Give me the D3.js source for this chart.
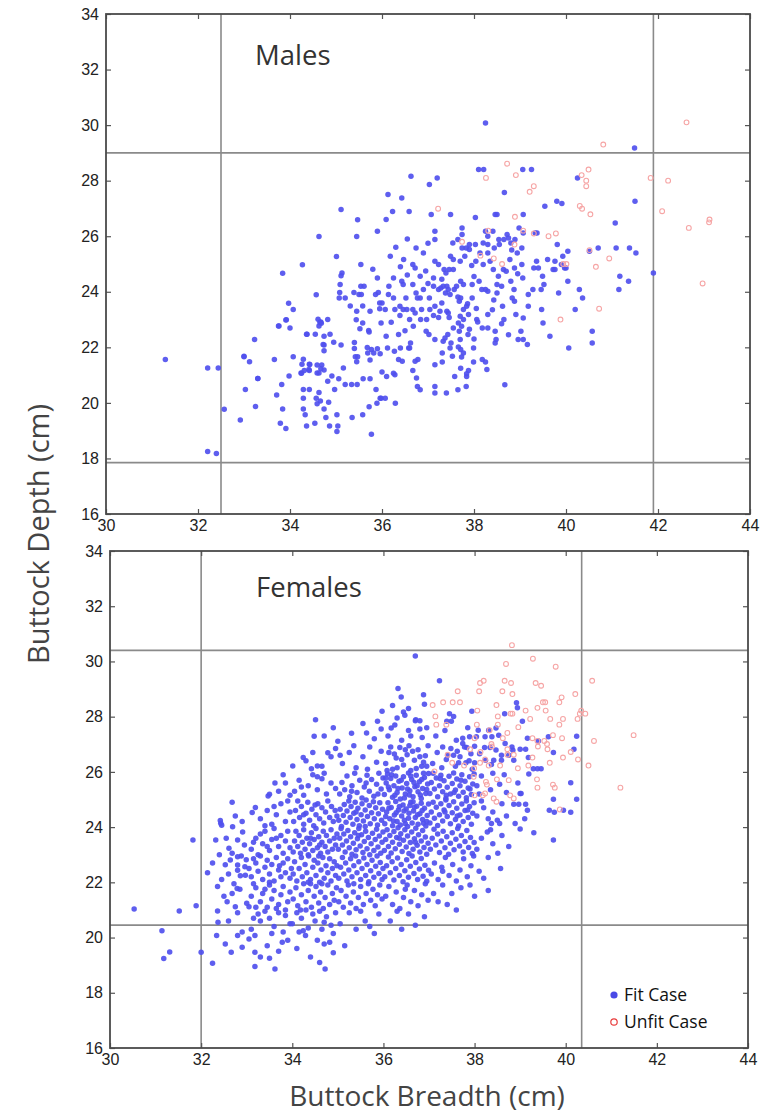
<!DOCTYPE html>
<html><head><meta charset="utf-8">
<script src="https://cdn.jsdelivr.net/npm/d3@7/dist/d3.min.js"></script>
<style>html,body{margin:0;padding:0;background:#fff}svg{display:block}</style>
</head><body>
<svg id="chart" width="780" height="1113"></svg>
<script>
// ---------- DATA (cm) ----------
const xTicks = [30,32,34,36,38,40,42,44];
const yTicks = [16,18,20,22,24,26,28,30,32,34];
const panelTitles = ["Males","Females"];
const legendLabels = ["Fit Case","Unfit Case"];
const xAxisTitle = "Buttock Breadth (cm)";
const yAxisTitle = "Buttock Depth (cm)";
const maleBreadthLimits = [32.5, 41.9];
const maleDepthLimits = [17.85, 29.0];
const femaleBreadthLimits = [32.0, 40.35];
const femaleDepthLimits = [20.45, 30.4];

const maleFit = [
[31.29,21.56],[32.21,18.25],[32.4,18.18],[36.13,27.5],
[35.11,26.96],[35.47,26.59],[35.9,26.18],[35.45,25.99],[34.63,25.99],[35.01,25.27],[35.54,24.98],[35.8,24.81],[34.27,24.97],[33.84,24.67],[35.13,24.68],[35.11,24.58],[35.9,24.5],[35.09,24.26],[35.54,24.2],[35.61,24.2],[34.57,23.89],[35.08,23.97],[35.07,23.78],[35.2,23.78],[35.39,23.97],[35.5,23.9],[35.55,23.9],[35.86,23.9],[35.92,23.97],[35.31,23.49],[35.58,23.49],[35.45,23.3],[35.74,23.3],[35.95,23.6],[35.95,23.39],[33.97,23.59],[34.07,23.36],[33.92,22.99],[33.76,22.77],[34.0,22.7],[34.61,23.01],[34.67,22.91],[34.63,22.77],[34.68,22.87],[34.82,23.0],[35.44,22.99],[35.58,22.88],[35.52,22.67],[35.71,22.61],[35.72,22.55],[35.98,22.88],[34.37,22.47],[34.55,22.47],[34.74,22.4],[34.87,22.47],[33.23,22.28],[34.95,22.18],[34.74,22.08],[34.74,21.88],[35.4,22.17],[35.4,21.96],[35.68,21.99],[35.77,21.92],[35.69,21.8],[35.82,21.8],[35.9,21.95],[35.96,21.77],[33.0,21.66],[33.12,21.48],[33.66,21.56],[34.07,21.66],[34.29,21.57],[34.26,21.39],[34.42,21.39],[34.31,21.17],[34.42,21.17],[34.59,21.36],[34.69,21.36],[34.67,21.23],[34.74,21.18],[34.59,21.08],[34.63,21.08],[35.16,21.26],[35.42,21.66],[35.47,21.66],[35.45,21.48],[35.74,21.54],[32.21,21.26],[32.44,21.26],[34.24,21.08],[33.3,20.88],[33.03,20.48],[33.82,20.66],[33.71,20.28],[33.98,20.97],[34.29,20.48],[34.42,20.48],[34.29,20.17],[34.57,20.17],[34.59,19.97],[34.63,20.37],[34.66,20.07],[34.82,20.78],[34.91,20.97],[35.06,20.87],[34.97,20.48],[34.84,20.02],[35.2,20.66],[35.34,20.66],[35.46,20.66],[35.59,20.87],[35.74,20.87],[35.87,20.48],[35.96,20.17],[35.89,19.99],[33.25,19.87],[32.57,19.77],[32.92,19.38],[33.84,19.78],[33.79,19.27],[33.91,19.08],[34.29,19.78],[34.33,19.57],[34.36,19.17],[34.54,19.27],[34.74,19.78],[34.78,19.47],[34.86,19.17],[35.02,19.57],[35.04,19.17],[35.02,18.97],[35.35,19.47],[35.58,19.57],[35.72,19.86],[35.77,18.87],
[33.0,21.68],[33.3,20.88],[33.75,22.77],[33.91,22.98],[34.36,22.47],[34.65,22.9],[34.72,22.1],[35.11,22.08],[34.43,21.38],[34.41,21.2],[34.25,21.07],
[38.25,30.08],[41.49,29.18],[36.63,28.16],[37.2,28.1],[37.03,27.86],[36.43,27.38],[38.1,28.4],[38.21,28.4],[39.06,28.4],[39.25,28.4],[40.25,28.1],[38.66,27.57],
[36.23,26.89],[36.09,26.6],[36.59,26.89],[37.07,26.78],[37.49,26.78],[38.03,26.67],[38.46,26.78],[38.5,26.78],[39.07,26.78],[39.54,27.08],[39.8,27.26],[39.91,27.18],[41.07,26.48],[41.5,27.26],[37.74,26.3],[37.74,26.06],[37.15,26.18],[37.15,25.88],[36.74,25.58],[37.54,25.76],[37.65,25.88],[37.74,25.58],[37.83,25.58],[37.9,25.7],[38.03,25.7],[37.9,25.52],
[38.25,26.18],[38.41,26.18],[38.3,26.0],[38.2,25.76],[38.3,25.7],[38.3,25.4],[38.44,25.58],[38.55,25.7],[38.54,25.88],[38.65,25.88],[38.72,26.06],[38.75,25.94],[38.8,25.76],[38.82,25.5],[38.89,25.88],[38.98,26.3],[39.07,26.12],[39.04,25.58],[38.94,25.4],
[39.33,26.12],[39.37,26.12],[39.81,25.7],[39.93,25.28],[40.04,25.46],[40.51,25.46],[40.7,25.58],[41.09,25.58],[41.38,25.58],[41.52,25.4],[41.17,24.56],[41.36,24.38],[41.15,24.08],[41.9,24.68],[40.29,24.08],[40.36,23.78],[40.2,23.36],[40.57,22.58],[40.57,22.16],[40.06,21.98],[39.65,22.4],[39.84,23.96],[40.04,24.38],[39.9,24.98],[39.97,24.86],[40.0,24.86],[39.72,24.8],[39.76,24.8],[39.6,25.16],[39.76,25.1],[39.36,25.1],[39.3,24.86],[39.4,24.86],[39.49,24.56],[39.52,24.26],[39.46,24.08],[39.28,24.08],[39.18,23.9],[39.18,23.48],[39.47,23.36],[39.5,22.88],[39.07,23.06],[38.91,23.18],[39.02,22.58],[38.96,22.28],[39.07,22.28],[39.16,22.1],[39.04,24.98],[39.06,24.5],[38.87,24.08],[38.8,24.38],[38.83,23.78],[38.88,23.66],[38.62,23.48],[38.65,23.0],[38.46,22.58],[38.48,22.28],[38.46,22.16],
[38.5,24.26],[38.5,23.96],[38.43,23.7],[38.3,24.02],[38.25,24.08],[38.17,24.08],[38.11,24.38],[38.04,25.1],[38.13,25.4],[38.2,24.98],[38.42,24.8],[38.53,24.56],[38.64,24.8],[38.78,25.16],[38.88,24.86],[38.7,24.74],
[38.3,23.18],[38.18,22.7],[38.3,22.7],[38.18,21.56],[38.25,21.47],[38.28,21.2],[37.99,21.47],[37.88,21.17],[37.84,21.05],[37.71,21.25],[38.67,20.65],
[38.06,23.0],[38.08,22.91],[37.99,21.98],[37.87,22.46],[37.68,22.58],[37.73,22.76],[37.77,23.0],[37.88,23.18],[37.84,23.48],[37.86,23.57],[37.96,23.78],[37.71,23.78],[37.68,23.66],[37.77,23.36],[37.7,23.12],
[37.7,22.28],[37.66,22.01],[37.71,21.92],[37.77,21.8],[37.73,21.65],[37.53,21.68],[37.48,21.98],[37.5,22.16],[37.33,22.22],[37.37,22.34],[37.43,22.46],[37.31,21.8],[37.31,21.47],[37.15,21.37],
[37.58,20.95],[37.84,20.95],[37.83,20.59],[37.65,20.47],[37.4,20.36],[37.15,20.59],[37.15,20.36],[36.83,20.47],[36.77,20.59],[36.67,21.17],[36.75,20.9],
[36.72,21.5],[36.78,21.56],[36.6,21.98],[36.4,21.98],[36.27,21.86],[36.44,21.5],[36.36,21.56],[36.28,21.01],[36.25,21.07],[36.1,20.95],[36.0,21.11],[36.29,19.99],[36.07,20.17],[35.98,20.17],
[36.36,22.46],[36.09,22.4],[36.12,21.98],[36.62,22.16],[36.58,21.98],[36.96,22.58],[37.02,22.46],[37.15,22.28],
[36.18,25.28],[36.47,25.16],[36.67,24.98],[36.72,24.86],[36.83,24.56],[37.15,25.1],[37.23,24.98],[37.35,24.8],[37.46,24.8],[37.55,24.8],[37.39,24.68],[37.49,25.28],[37.55,25.16],[37.7,25.1],[37.8,25.28],
[37.12,24.5],[36.25,24.5],[36.43,24.38],[36.46,24.26],[36.67,24.26],[36.74,23.96],[36.9,24.08],[37.12,24.2],[37.28,24.14],[37.33,24.2],[37.41,24.2],[37.44,24.08],[37.57,24.08],[37.62,24.2],[37.77,24.26],[37.71,24.38],[37.96,24.26],
[36.14,23.9],[36.25,23.78],[36.52,23.78],[36.77,23.78],[36.83,23.78],[37.03,23.78],[37.23,24.08],[37.38,23.96],[37.48,23.9],[37.65,23.81],
[36.0,23.6],[36.07,23.36],[36.28,23.36],[36.39,23.48],[36.46,23.36],[36.54,23.36],[36.67,23.36],[36.72,23.24],[36.86,23.36],[37.04,23.36],[37.15,23.48],[37.26,23.3],[37.41,23.3],[37.3,23.6],[37.44,23.24],
[36.39,23.15],[36.6,23.0],[36.68,22.76],[36.84,23.0],[36.97,23.0],[37.12,23.15],[37.23,23.07],[37.46,23.07],[37.66,22.88],
[36.3,25.6],[36.55,25.9],[36.9,25.4],[37.0,25.75],[36.4,24.9],[36.95,24.75],[36.2,22.9],[36.5,22.6],[36.15,24.2],[36.55,24.6],[37.0,24.3],[37.3,24.45],[38.0,24.55],[37.95,24.95],[38.35,25.1],[38.6,24.2],[38.95,24.65],[38.05,23.4],[38.4,23.35],[38.6,22.85],[38.75,22.45],[37.55,22.7],[37.9,22.65],[38.0,22.3]
];

const maleUnfit = [
[40.81,29.3],[42.62,30.1],[38.72,28.61],[38.26,28.1],[38.91,28.2],[39.3,27.8],[39.21,27.6],[40.34,28.2],[40.49,28.4],[40.44,28.0],[40.44,27.8],[41.84,28.1],[42.22,28.0],[37.22,26.99],[38.89,26.7],[40.3,27.09],[40.35,26.99],[40.53,26.79],[42.09,26.9],[43.12,26.6],[43.11,26.5],[42.67,26.3],[39.07,26.2],[39.3,26.1],[39.62,26.0],[39.78,26.1],[38.88,25.7],[37.74,25.8],[38.31,26.2],[38.14,25.3],[38.43,25.2],[38.61,25.0],[39.94,25.0],[40.01,25.0],[40.51,25.5],[40.65,24.9],[40.94,25.2],[42.97,24.3],[39.88,23.0],[40.72,23.39]
];

const femaleFit = [
// sparse outline
[30.53,21.03],[31.14,20.25],[31.18,19.24],[31.31,19.48],[31.52,20.96],[31.89,21.15],[32.0,19.47],[32.25,19.07],[31.82,23.53],[32.14,22.35],[32.36,21.85],[32.36,20.96],[32.37,20.55],[32.34,20.07],[32.32,23.53],[32.42,24.24],[32.43,24.14],[32.45,24.07],[32.69,24.01],[32.91,23.82],[32.68,24.9],[33.12,24.53],[33.19,24.71],[33.5,25.19],[33.47,25.13],[33.62,25.6],[34.01,26.21],[34.24,26.52],[34.42,26.11],[34.55,26.21],[34.55,25.82],[34.78,26.69],[34.51,27.89],[34.48,27.29],[35.0,27.11],[35.63,27.41],[35.87,27.83],[35.97,28.2],[36.17,27.59],[36.32,29.02],[36.39,28.71],[36.44,28.17],[36.47,28.05],[36.71,27.89],[36.8,27.85],[36.88,28.79],[36.7,30.2],[37.23,29.3],
[32.53,19.77],[32.66,19.47],[32.8,20.07],[32.9,19.65],[33.05,19.95],[33.18,20.07],[33.18,19.47],[33.18,18.95],[33.5,19.25],[33.62,18.86],[33.78,19.83],[34.24,20.25],[34.29,20.07],[34.7,19.77],[34.82,19.83],[34.72,18.86],
// 32-33
[32.5,21.5],[32.57,21.3],[32.68,21.6],[32.79,21.78],[32.85,21.75],[32.75,21.12],[32.64,22.81],[32.53,22.64],[32.8,22.93],[32.88,22.95],[32.8,22.63],[32.8,22.44],[32.99,22.82],[32.96,22.56],[32.97,22.26],[32.86,22.24],[32.68,23.05],[32.61,23.23],[32.8,23.53],[32.95,23.35],[32.6,20.6],[32.8,20.9],[32.9,20.2],[32.45,22.1],[32.6,22.3],[32.72,21.95],[32.55,23.6],[32.75,24.4],[32.9,24.2],[32.25,22.7],[32.4,23.0],
// 33-34
[33.05,21.12],[33.0,21.24],[33.3,19.3],[33.45,19.7],[33.7,19.5],[33.9,19.9],
[33.1,20.3],[33.3,20.6],[33.5,20.7],[33.6,20.4],[33.7,20.9],[33.85,20.8],[33.95,20.5],[33.4,20.95],[33.25,20.85],[33.8,20.2],[33.55,20.15],[33.15,20.7],
[33.1,21.5],[33.2,21.8],[33.3,21.3],[33.35,21.6],[33.45,21.1],[33.5,21.9],[33.55,21.4],[33.6,21.7],[33.7,21.2],[33.75,21.55],[33.8,21.85],[33.9,21.3],[33.95,21.65],[33.2,21.1],[33.4,21.75],[33.65,21.05],[33.85,21.0],[33.15,21.95],
[33.05,22.5],[33.1,22.2],[33.2,22.7],[33.25,22.4],[33.3,22.95],[33.35,22.1],[33.4,22.55],[33.45,22.8],[33.5,22.3],[33.55,22.65],[33.6,22.05],[33.65,22.9],[33.7,22.45],[33.75,22.2],[33.8,22.7],[33.85,22.35],[33.9,22.85],[33.95,22.15],[33.15,22.85],[33.5,22.0],[33.72,22.6],[33.98,22.5],
[33.1,23.2],[33.2,23.6],[33.25,23.0],[33.35,23.4],[33.4,23.85],[33.5,23.15],[33.55,23.55],[33.6,23.95],[33.7,23.3],[33.75,23.7],[33.8,23.05],[33.85,23.5],[33.9,23.85],[33.95,23.25],[33.45,23.3],[33.65,23.6],[33.3,23.75],[33.15,23.45],
[33.3,24.3],[33.45,24.6],[33.55,24.1],[33.65,24.45],[33.75,24.85],[33.85,24.2],[33.95,24.55],[33.6,24.75],[33.4,24.05],[33.9,24.95],
[33.7,25.3],[33.85,25.6],[33.95,25.15],[33.8,25.9],
// 34-35
[34.1,19.6],[34.4,19.3],[34.55,19.9],[34.9,19.45],[34.6,19.1],
[34.0,20.5],[34.1,20.9],[34.2,20.7],[34.35,20.35],[34.45,20.85],[34.5,20.6],[34.6,20.95],[34.65,20.3],[34.75,20.75],[34.85,20.45],[34.95,20.9],[34.3,21.0],[34.7,20.55],[34.9,20.15],[34.15,20.2],
[34.02,21.4],[34.08,21.8],[34.12,21.15],[34.2,21.55],[34.25,21.95],[34.3,21.3],[34.35,21.7],[34.42,21.1],[34.48,21.5],[34.52,21.85],[34.58,21.25],[34.62,21.65],[34.68,21.05],[34.72,21.45],[34.78,21.9],[34.82,21.2],[34.88,21.6],[34.92,21.35],[34.97,21.8],[34.4,21.95],[34.65,21.95],[34.18,21.0],
[34.02,22.3],[34.05,22.75],[34.1,22.05],[34.15,22.5],[34.2,22.9],[34.22,22.2],[34.28,22.65],[34.32,22.35],[34.36,22.95],[34.4,22.1],[34.45,22.55],[34.48,22.8],[34.52,22.25],[34.56,22.7],[34.6,22.0],[34.63,22.45],[34.67,22.9],[34.7,22.15],[34.74,22.6],[34.78,22.35],[34.82,22.85],[34.85,22.05],[34.88,22.5],[34.92,22.75],[34.95,22.25],[34.98,22.6],[34.35,22.0],[34.58,22.95],
[34.02,23.1],[34.05,23.5],[34.08,23.85],[34.12,23.3],[34.15,23.7],[34.18,23.05],[34.22,23.45],[34.25,23.9],[34.28,23.2],[34.32,23.6],[34.35,23.0],[34.38,23.4],[34.42,23.8],[34.45,23.15],[34.48,23.55],[34.52,23.95],[34.55,23.25],[34.58,23.65],[34.62,23.05],[34.65,23.45],[34.68,23.85],[34.72,23.3],[34.75,23.7],[34.78,23.1],[34.82,23.5],[34.85,23.9],[34.88,23.2],[34.92,23.6],[34.95,23.35],[34.98,23.75],[34.4,23.6],[34.6,23.35],
[34.03,24.2],[34.07,24.6],[34.12,24.95],[34.16,24.35],[34.2,24.75],[34.25,24.1],[34.3,24.5],[34.34,24.9],[34.38,24.25],[34.43,24.65],[34.47,24.05],[34.52,24.45],[34.56,24.85],[34.6,24.3],[34.65,24.7],[34.69,24.15],[34.73,24.55],[34.78,24.95],[34.82,24.35],[34.86,24.75],[34.9,24.2],[34.94,24.6],[34.98,24.4],[34.5,24.8],[34.25,24.45],
[34.05,25.3],[34.15,25.7],[34.25,25.15],[34.35,25.5],[34.45,25.9],[34.55,25.35],[34.65,25.75],[34.75,25.2],[34.85,25.6],[34.95,25.4],[34.7,25.95],[34.2,25.45],
[34.3,26.4],[34.65,26.2],[34.85,26.55],[34.95,26.85],[34.45,26.7],[34.9,27.6],[34.7,27.3],
// 35-36
[35.15,19.7],[35.4,20.3],[35.6,20.6],[35.8,20.15],[35.9,20.85],[35.25,20.9],[35.5,20.95],[35.7,20.4],[35.05,20.5],
[35.02,21.3],[35.07,21.7],[35.12,21.1],[35.18,21.5],[35.23,21.9],[35.28,21.25],[35.34,21.65],[35.4,21.05],[35.45,21.45],[35.5,21.85],[35.56,21.2],[35.62,21.6],[35.67,21.95],[35.72,21.35],[35.77,21.75],[35.82,21.15],[35.87,21.55],[35.92,21.9],[35.97,21.4],[35.35,21.95],
[35.02,22.15],[35.06,22.55],[35.1,22.9],[35.13,22.3],[35.17,22.7],[35.2,22.05],[35.24,22.45],[35.28,22.85],[35.31,22.2],[35.35,22.6],[35.39,22.95],[35.42,22.35],[35.46,22.75],[35.5,22.1],[35.53,22.5],[35.57,22.88],[35.61,22.25],[35.64,22.65],[35.68,22.02],[35.72,22.42],[35.75,22.8],[35.79,22.18],[35.83,22.58],[35.86,22.95],[35.9,22.32],[35.93,22.72],[35.97,22.1],[35.99,22.5],
[35.01,23.2],[35.04,23.6],[35.07,23.95],[35.1,23.35],[35.13,23.75],[35.16,23.1],[35.19,23.5],[35.22,23.88],[35.25,23.25],[35.28,23.65],[35.31,23.02],[35.34,23.42],[35.37,23.8],[35.4,23.18],[35.43,23.58],[35.46,23.95],[35.49,23.32],[35.52,23.72],[35.55,23.08],[35.58,23.48],[35.61,23.85],[35.64,23.22],[35.67,23.62],[35.7,23.0],[35.73,23.4],[35.76,23.78],[35.79,23.15],[35.82,23.55],[35.85,23.92],[35.88,23.28],[35.91,23.68],[35.94,23.05],[35.97,23.45],[35.99,23.82],[35.45,23.7],
[35.02,24.25],[35.05,24.65],[35.08,24.02],[35.12,24.42],[35.14,24.82],[35.18,24.18],[35.2,24.58],[35.24,24.95],[35.27,24.35],[35.29,24.75],[35.33,24.1],[35.35,24.5],[35.38,24.9],[35.42,24.28],[35.44,24.68],[35.47,24.05],[35.51,24.45],[35.53,24.85],[35.56,24.22],[35.6,24.62],[35.62,24.98],[35.65,24.38],[35.69,24.78],[35.71,24.12],[35.74,24.52],[35.78,24.92],[35.8,24.3],[35.83,24.7],[35.87,24.08],[35.89,24.48],[35.92,24.88],[35.96,24.25],[35.98,24.65],[35.6,24.02],[35.4,24.55],
[35.04,25.2],[35.09,25.62],[35.15,25.35],[35.2,25.85],[35.26,25.1],[35.31,25.5],[35.37,25.95],[35.42,25.25],[35.48,25.7],[35.53,25.05],[35.58,25.45],[35.64,25.88],[35.69,25.3],[35.74,25.72],[35.79,25.12],[35.85,25.55],[35.9,25.95],[35.95,25.38],[35.99,25.78],[35.3,25.3],[35.62,25.6],[35.88,25.2],
[35.1,26.3],[35.25,26.7],[35.4,26.15],[35.55,26.55],[35.7,26.9],[35.85,26.35],[35.95,26.75],[35.35,26.95],[35.65,26.1],[35.05,26.6],
[35.3,27.4],[35.55,27.75],[35.8,27.2],[35.95,27.55],
// 36-37
[36.15,20.6],[36.4,20.3],[36.55,20.85],[36.7,20.45],[36.9,20.75],[36.3,20.95],
[36.05,21.5],[36.12,21.85],[36.2,21.2],[36.28,21.65],[36.36,21.05],[36.44,21.45],[36.52,21.9],[36.6,21.3],[36.68,21.7],[36.76,21.15],[36.84,21.55],[36.92,21.95],[36.98,21.35],[36.48,21.75],
[36.03,22.2],[36.07,22.6],[36.11,22.92],[36.15,22.35],[36.19,22.75],[36.23,22.08],[36.27,22.5],[36.31,22.88],[36.35,22.25],[36.39,22.65],[36.43,22.02],[36.47,22.42],[36.51,22.82],[36.55,22.18],[36.59,22.58],[36.63,22.95],[36.67,22.32],[36.71,22.72],[36.75,22.1],[36.79,22.48],[36.83,22.86],[36.87,22.22],[36.91,22.62],[36.95,22.04],[36.99,22.44],
[36.02,23.15],[36.05,23.55],[36.08,23.9],[36.11,23.3],[36.14,23.7],[36.17,23.06],[36.2,23.45],[36.23,23.84],[36.26,23.22],[36.29,23.62],[36.32,23.98],[36.35,23.38],[36.38,23.76],[36.41,23.12],[36.44,23.52],[36.47,23.9],[36.5,23.28],[36.53,23.68],[36.56,23.04],[36.59,23.44],[36.62,23.82],[36.65,23.2],[36.68,23.58],[36.71,23.96],[36.74,23.34],[36.77,23.72],[36.8,23.1],[36.83,23.5],[36.86,23.88],[36.89,23.26],[36.92,23.64],[36.95,23.02],[36.98,23.42],[36.35,23.6],[36.7,23.45],
[36.03,24.12],[36.07,24.55],[36.1,24.88],[36.14,24.3],[36.17,24.71],[36.2,24.05],[36.24,24.44],[36.27,24.93],[36.3,24.2],[36.33,24.62],[36.37,24.08],[36.4,24.4],[36.43,24.8],[36.46,24.25],[36.5,24.66],[36.53,24.02],[36.56,24.5],[36.6,24.9],[36.63,24.15],[36.66,24.58],[36.7,24.35],[36.73,24.76],[36.76,24.1],[36.8,24.48],[36.83,24.86],[36.86,24.28],[36.9,24.68],[36.93,24.04],[36.96,24.42],[36.99,24.84],[36.12,24.68],[36.22,24.22],[36.35,24.75],[36.45,24.58],[36.55,24.32],[36.65,24.92],[36.75,24.45],[36.85,24.6],[36.95,24.2],[36.05,24.38],[36.28,24.52],[36.48,24.12],[36.68,24.72],[36.88,24.14],[36.58,24.78],
[36.02,25.18],[36.06,25.6],[36.09,25.92],[36.13,25.35],[36.16,25.76],[36.2,25.08],[36.23,25.5],[36.27,25.85],[36.3,25.25],[36.34,25.66],[36.37,25.02],[36.41,25.42],[36.44,25.82],[36.48,25.2],[36.51,25.58],[36.55,25.96],[36.58,25.32],[36.62,25.72],[36.65,25.1],[36.69,25.46],[36.72,25.88],[36.76,25.28],[36.79,25.64],[36.83,25.04],[36.86,25.4],[36.9,25.8],[36.93,25.22],[36.97,25.56],[36.99,25.94],[36.11,25.45],[36.25,25.15],[36.39,25.7],[36.53,25.38],[36.67,25.62],[36.81,25.16],[36.95,25.36],[36.18,25.9],[36.46,25.05],[36.6,25.85],[36.74,25.5],[36.88,25.95],[36.32,25.4],[36.05,25.78],[36.57,25.16],[36.84,25.72],
[36.05,26.3],[36.12,26.7],[36.2,26.1],[36.28,26.5],[36.36,26.88],[36.44,26.25],[36.52,26.62],[36.6,26.05],[36.68,26.42],[36.76,26.8],[36.84,26.2],[36.92,26.58],[36.98,26.95],[36.16,26.9],[36.4,26.45],[36.64,26.75],[36.88,26.35],[36.3,26.15],[36.56,26.95],[36.8,26.55],[36.24,26.65],[36.72,26.12],[36.48,26.8],[36.95,26.2],[36.08,26.05],
[36.1,27.3],[36.25,27.7],[36.4,27.15],[36.55,27.5],[36.7,27.85],[36.85,27.25],[36.95,27.6],[36.3,27.95],[36.6,27.3],[36.8,27.55],
[36.2,28.4],[36.55,28.3],[36.9,28.45],
// 37-38
[37.3,21.9],[37.5,21.6],[37.7,21.8],[37.4,21.2],[38.0,21.5],[37.9,21.9],[38.3,21.7],[37.6,21.0],[37.1,21.6],[37.2,21.3],
[37.05,22.3],[37.12,22.7],[37.2,22.1],[37.28,22.55],[37.36,22.9],[37.44,22.25],[37.52,22.65],[37.6,22.05],[37.68,22.45],[37.76,22.85],[37.84,22.2],[37.92,22.6],[37.98,22.95],[37.3,22.4],
[37.03,23.2],[37.07,23.6],[37.11,23.92],[37.15,23.35],[37.19,23.75],[37.23,23.08],[37.27,23.5],[37.31,23.85],[37.35,23.25],[37.39,23.65],[37.43,23.02],[37.47,23.42],[37.51,23.8],[37.55,23.18],[37.59,23.56],[37.63,23.95],[37.67,23.32],[37.71,23.7],[37.75,23.1],[37.79,23.48],[37.83,23.88],[37.87,23.26],[37.91,23.62],[37.95,23.04],[37.99,23.44],
[37.02,24.15],[37.05,24.55],[37.09,24.9],[37.12,24.32],[37.16,24.72],[37.19,24.06],[37.23,24.45],[37.26,24.85],[37.3,24.22],[37.33,24.62],[37.37,24.98],[37.4,24.38],[37.44,24.78],[37.47,24.12],[37.51,24.52],[37.54,24.92],[37.58,24.28],[37.61,24.68],[37.65,24.04],[37.68,24.44],[37.72,24.84],[37.75,24.2],[37.79,24.6],[37.82,24.95],[37.86,24.35],[37.89,24.75],[37.93,24.1],[37.96,24.5],[37.99,24.88],[37.35,24.55],[37.62,24.4],[37.85,24.62],
[37.02,25.22],[37.05,25.62],[37.09,25.95],[37.12,25.38],[37.16,25.78],[37.19,25.1],[37.23,25.5],[37.26,25.88],[37.3,25.28],[37.33,25.68],[37.37,25.04],[37.4,25.44],[37.44,25.84],[37.47,25.2],[37.51,25.58],[37.54,25.96],[37.58,25.34],[37.61,25.74],[37.65,25.12],[37.68,25.5],[37.72,25.9],[37.75,25.26],[37.79,25.66],[37.82,25.06],[37.86,25.42],[37.89,25.82],[37.93,25.18],[37.96,25.56],[37.99,25.92],[37.25,25.75],[37.55,25.25],[37.7,25.7],[37.38,25.15],[37.9,25.38],
[37.08,26.3],[37.18,26.7],[37.28,26.15],[37.38,26.45],[37.48,26.85],[37.58,26.2],[37.68,26.55],[37.78,26.9],[37.88,26.4],[37.95,26.1],[37.3,26.9],[37.62,26.75],
[37.15,27.3],[37.35,27.5],[37.6,27.15],[37.85,27.6],
// 38-41 (right part)
[38.92,28.5],[38.94,28.32],[37.94,28.2],[37.45,28.11],[37.54,28.01],[37.39,27.83],[37.49,27.83],[38.66,28.11],[39.05,27.83],[38.08,27.51],[38.31,27.51],[38.47,27.59],[37.74,27.22],[37.89,27.27],[38.04,27.27],[38.23,27.27],[38.38,27.27],[38.53,27.33],[38.67,27.03],[38.82,26.9],[38.84,26.78],[39.0,26.82],[39.12,26.82],[39.18,26.52],[39.16,27.22],[39.4,27.12],[39.62,27.27],[40.24,27.29],[39.73,26.7],[40.18,26.82],[39.19,25.92],[39.29,26.11],[39.38,26.11],[39.46,26.11],[40.11,25.61],[39.73,25.01],[39.64,24.61],[39.75,24.54],[39.95,24.61],[40.11,24.54],[40.24,25.01],[39.73,23.53],[39.0,25.22],[39.02,25.22],[38.86,24.83],[38.97,24.83],[39.12,24.83],[39.16,24.61],[38.89,24.13],[39.0,23.93],[38.51,23.05],[38.57,22.5],[38.28,23.82],[38.37,24.13],[38.55,24.13],[38.5,24.25],
[37.74,27.03],[37.83,26.88],[37.92,26.66],[38.0,26.93],[38.11,26.66],[38.22,26.88],[38.34,26.88],[38.47,26.79],[38.59,26.6],[38.75,26.6],[38.86,26.42],[38.59,26.42],[38.42,26.42],[38.37,26.27],[38.24,26.42],[38.0,26.33],[37.81,26.33],[37.65,26.33],[37.54,26.6],[37.41,26.6],
[38.1,22.4],[38.3,22.9],[38.2,22.15],[38.05,23.2],[38.15,23.6],[38.4,23.4],[38.6,23.7],[38.35,23.9],[38.75,23.3],[38.05,24.4],[38.2,24.7],[38.4,24.55],[38.6,24.85],[38.7,24.4],[38.15,24.95],[38.3,24.3],[38.05,25.5],[38.15,25.85],[38.35,25.35],[38.55,25.55],[38.65,25.9],[38.4,25.95],[38.1,25.2],[38.7,25.25],[38.95,25.6],[39.1,24.3],[39.3,23.8]
];

const femaleUnfit = [
[38.82,30.59],[39.28,30.1],[38.69,29.91],[39.78,29.81],[40.58,29.3],[38.12,29.22],[38.2,29.3],[38.66,29.3],[38.8,29.22],[39.34,29.22],[39.46,29.12],[37.63,28.92],[38.1,28.92],[38.61,28.92],[38.83,28.82],[39.91,28.7],[40.21,28.82],[37.08,28.42],[37.31,28.52],[37.52,28.52],[37.68,28.52],[38.48,28.42],[39.5,28.52],[39.55,28.52],[39.86,28.52],[38.06,28.22],[38.51,28.01],[38.79,28.11],[38.83,28.11],[39.12,28.22],[39.38,28.32],[39.56,28.22],[40.34,28.22],[40.43,28.11],[40.31,28.11],[37.14,28.01],[37.16,27.71],[37.38,27.71],[39.22,27.92],[39.66,27.92],[39.94,27.92],[40.26,27.92],[39.86,27.71],[38.05,27.71],[38.51,27.71],[38.72,27.41],[38.96,27.62],[38.33,27.51],[38.62,27.22],[39.27,27.22],[39.38,27.12],[39.53,27.12],[39.59,27.01],[39.72,27.33],[39.92,27.22],[40.62,27.12],[41.49,27.33],[38.0,27.22],[38.37,27.01],[38.38,26.92],[37.9,26.82],[38.13,26.72],[38.72,26.82],[38.86,26.62],[38.72,26.62],[39.39,26.92],[39.6,26.82],[40.11,26.72],[40.27,26.45],[40.5,26.23],[37.41,26.62],[37.51,26.33],[38.23,26.45],[38.31,26.23],[38.56,26.23],[38.95,26.13],[39.18,26.23],[39.27,26.52],[39.65,26.33],[39.94,26.52],[37.77,26.23],[37.99,26.13],[38.12,26.33],[41.2,25.43],[39.37,25.73],[39.38,25.43],[39.72,25.54],[39.76,25.43],[38.49,25.73],[38.25,25.64],[38.27,25.54],[38.23,25.22],[38.18,25.15],[38.0,25.15],[38.78,25.15],[38.86,25.04],[38.42,25.04],[38.48,24.92],[37.12,26.02],[37.98,25.82],[38.75,25.7],[39.87,24.64]
];

// ---------- DRAWING ----------
const svg = d3.select("#chart");
const FIT = "#5050ee", UNFIT = "#f6a5a5";
const panels = [
  {title: panelTitles[0], fit: maleFit, unfit: maleUnfit, bx: maleBreadthLimits, dy: maleDepthLimits,
   x: d3.scaleLinear().domain([30,44]).range([106,750]), y: d3.scaleLinear().domain([16,34]).range([514,14]), tx:255, ty:65, id:"m"},
  {title: panelTitles[1], fit: femaleFit, unfit: femaleUnfit, bx: femaleBreadthLimits, dy: femaleDepthLimits,
   x: d3.scaleLinear().domain([30,44]).range([110,748]), y: d3.scaleLinear().domain([16,34]).range([1048,551]), tx:256, ty:597, id:"f"}
];

panels.forEach(p => {
  const [x0,x1] = p.x.range(), [y1,y0] = p.y.range();
  const g = svg.append("g");
  g.append("clipPath").attr("id","clip-"+p.id).append("rect")
    .attr("x",x0).attr("y",y0).attr("width",x1-x0).attr("height",y1-y0);

  // reference limit lines
  const lines = g.append("g").attr("stroke","#8a8a8a").attr("stroke-width",1.6);
  p.bx.forEach(v => lines.append("line").attr("x1",p.x(v)).attr("x2",p.x(v)).attr("y1",y0).attr("y2",y1));
  p.dy.forEach(v => lines.append("line").attr("x1",x0).attr("x2",x1).attr("y1",p.y(v)).attr("y2",p.y(v)));

  const pts = g.append("g").attr("clip-path","url(#clip-"+p.id+")");
  pts.selectAll("circle.fit").data(p.fit).join("circle").attr("class","fit")
    .attr("cx",d=>p.x(d[0])).attr("cy",d=>p.y(d[1])).attr("r",2.75)
    .attr("fill",FIT).attr("fill-opacity",0.92);
  pts.selectAll("circle.unfit").data(p.unfit).join("circle").attr("class","unfit")
    .attr("cx",d=>p.x(d[0])).attr("cy",d=>p.y(d[1])).attr("r",2.4)
    .attr("fill","none").attr("stroke",UNFIT).attr("stroke-width",1.1);

  // axes: ticks inside on all four sides
  const style = sel => { sel.select(".domain").remove();
    sel.selectAll(".tick line").attr("stroke","#555").attr("stroke-width",1.2);
    sel.selectAll(".tick text").attr("fill","#222").style("font-family","'Liberation Sans', Arial, sans-serif").style("font-size","16px"); };
  g.append("g").attr("transform",`translate(0,${y1})`)
    .call(d3.axisBottom(p.x).tickValues(xTicks).tickSize(-5).tickPadding(6).tickFormat(d3.format("d"))).call(style);
  g.append("g").attr("transform",`translate(0,${y0})`)
    .call(d3.axisTop(p.x).tickValues(xTicks).tickSize(-5).tickFormat("")).call(style);
  g.append("g").attr("transform",`translate(${x0},0)`)
    .call(d3.axisLeft(p.y).tickValues(yTicks).tickSize(-5).tickPadding(7).tickFormat(d3.format("d"))).call(style);
  g.append("g").attr("transform",`translate(${x1},0)`)
    .call(d3.axisRight(p.y).tickValues(yTicks).tickSize(-5).tickFormat("")).call(style);

  g.append("rect").attr("x",x0).attr("y",y0).attr("width",x1-x0).attr("height",y1-y0)
    .attr("fill","none").attr("stroke","#4a4a4a").attr("stroke-width",1.8);

  g.append("text").attr("x",p.tx).attr("y",p.ty).text(p.title)
    .attr("fill","#333").style("font-family","'Open Sans', sans-serif").style("font-size","27.5px");
});

// legend (bottom panel)
const lg = svg.append("g").style("font-family","'Open Sans', sans-serif").style("font-size","17.5px").attr("fill","#111");
lg.append("circle").attr("cx",614).attr("cy",995).attr("r",3.6).attr("fill","#4a4ae6");
lg.append("text").attr("x",624).attr("y",1001).text(legendLabels[0]);
lg.append("circle").attr("cx",614).attr("cy",1022).attr("r",3.2).attr("fill","none").attr("stroke","#e83c3c").attr("stroke-width",1.2);
lg.append("text").attr("x",624).attr("y",1028).text(legendLabels[1]);

// axis titles
svg.append("text").attr("x",427).attr("y",1106).attr("text-anchor","middle").text(xAxisTitle)
  .attr("fill","#444").style("font-family","'Open Sans', sans-serif").style("font-size","28px");
svg.append("text").attr("transform","translate(49,534) rotate(-90)").attr("text-anchor","middle").text(yAxisTitle)
  .attr("fill","#444").style("font-family","'Open Sans', sans-serif").style("font-size","29px");
</script>
</body></html>
